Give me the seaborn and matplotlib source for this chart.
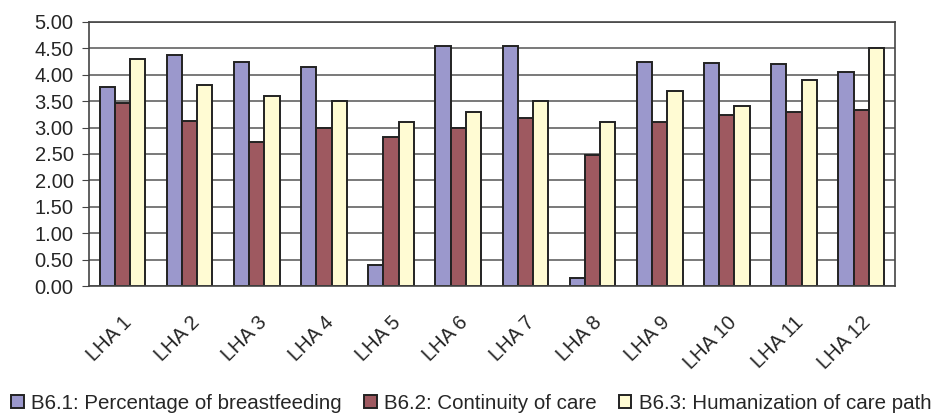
import matplotlib
matplotlib.use("Agg")
import matplotlib.pyplot as plt
import pandas as pd
import seaborn as sns

# Values
areas = ["LHA 1", "LHA 2", "LHA 3", "LHA 4", "LHA 5", "LHA 6",
         "LHA 7", "LHA 8", "LHA 9", "LHA 10", "LHA 11", "LHA 12"]
breastfeeding = [3.77, 4.38, 4.24, 4.15, 0.40, 4.55, 4.55, 0.16, 4.24, 4.22, 4.20, 4.05]
continuity = [3.47, 3.13, 2.72, 2.99, 2.83, 2.99, 3.18, 2.49, 3.11, 3.24, 3.29, 3.34]
humanization = [4.30, 3.80, 3.60, 3.50, 3.10, 3.30, 3.50, 3.10, 3.70, 3.40, 3.90, 4.50]
series_names = ["B6.1: Percentage of breastfeeding",
                "B6.2: Continuity of care",
                "B6.3: Humanization of care path"]
colors = ["#9b98cc", "#9e5960", "#fffbd3"]

df = pd.DataFrame({
    "area": areas * 3,
    "value": breastfeeding + continuity + humanization,
    "series": [series_names[0]] * 12 + [series_names[1]] * 12 + [series_names[2]] * 12,
})

sns.set_style("white")
plt.rcParams["font.family"] = ["Liberation Sans", "DejaVu Sans"]

fig = plt.figure(figsize=(9.35, 4.19), dpi=100)
ax = fig.add_axes([0.095, 0.317, 0.862, 0.631])

sns.barplot(data=df, x="area", y="value", hue="series", palette=colors,
            width=0.68, gap=0, edgecolor="#222222", linewidth=1.4,
            saturation=1, ax=ax)

ax.set_ylim(0, 5)
ax.set_xlim(-0.5, len(areas) - 0.5)
ax.set_yticks([i * 0.5 for i in range(11)])
ax.set_yticklabels([f"{i * 0.5:.2f}" for i in range(11)], fontsize=14.5)
ax.yaxis.grid(True, color="#555555", linewidth=1.1)
ax.set_axisbelow(True)

# tick marks between groups, labels at group centres
ax.set_xticks(range(len(areas)))
ax.set_xticklabels(areas, rotation=45, ha="right", va="top",
                   rotation_mode="anchor", fontsize=14.5)
ax.set_xticks([i - 0.5 for i in range(len(areas) + 1)], minor=True)
ax.tick_params(axis="x", which="major", length=0, pad=19)
ax.tick_params(axis="x", which="minor", length=5, color="#444444")
ax.tick_params(axis="y", length=5, color="#444444", left=True, pad=6)
ax.set_xlabel("")
ax.set_ylabel("")

for side in ["top", "right", "bottom", "left"]:
    ax.spines[side].set_color("#444444")
    ax.spines[side].set_linewidth(1.2)

ax.legend(loc="center left", bbox_to_anchor=(-0.096, -0.443), ncol=3, frameon=False,
          fontsize=14.8, handlelength=0.6, handleheight=0.6, handletextpad=0.35,
          columnspacing=1.1, borderaxespad=0, borderpad=0)

fig.savefig("out.png", dpi=100)
